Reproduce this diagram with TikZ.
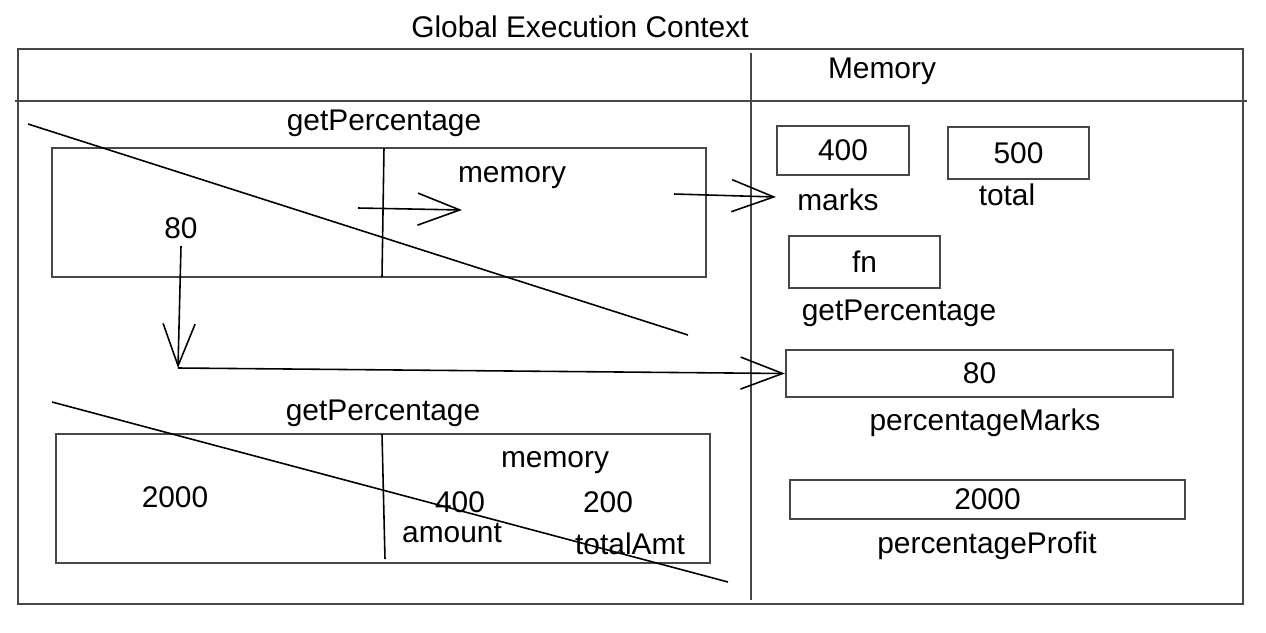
\documentclass[tikz,border=0pt]{standalone}
\usepackage{fontspec}
\setmainfont{Liberation Sans}
\usetikzlibrary{arrows.meta,calc}

\begin{document}
\begin{tikzpicture}[x = 0.01cm, y = -0.01cm,
    every node/.style = {font = \fontsize{8.5}{10}\selectfont, inner sep = 0pt},
    frame/.style = {draw = black!72, line width = 0.65pt},
    pen/.style = {draw = black, line width = 0.45pt},
    barb/.style = {pen, -{Straight Barb[length = 0.42cm, width = 0.32cm]}},
    valbox/.style = {draw = black!72, line width = 0.6pt, rectangle},
    lbl/.style = {anchor = base}]
        \useasboundingbox (0,0) rectangle (1266,633);
        % global context
        \coordinate(G1)at(18,49);
        \coordinate(G2)at(1243,604);
        \path[frame](G1)rectangle(G2);
        \path[frame](15,101)to(1247,101);
        \path[frame](751,53)to(751,600);
        \node[lbl](title)at(580,37){Global Execution Context};
        \node[lbl](memhead)at(882,78){Memory};
        % first call
        \node[lbl](fnA)at(384,130){getPercentage};
        \path[frame](52,148)rectangle(706,277);
        \path[pen](384,148)to(382,277);
        \node[lbl](memA)at(512,182){memory};
        \node[lbl, inner sep = 2pt](v80)at(181,238){80};
        \path[pen](28,124)to(688,335);
        % second call
        \node[lbl](fnB)at(383,420){getPercentage};
        \path[frame](56,434)rectangle(710,563);
        \path[pen](382,434)to(385,559);
        \node[lbl](memB)at(555,467){memory};
        \node[lbl](v2000)at(175,507){2000};
        \node[lbl](v400)at(460,512){400};
        \node[lbl](v200)at(608,512){200};
        \node[lbl](amount)at(452,542){amount};
        \node[lbl](totalAmt)at(630,554){totalAmt};
        \path[pen](52,402)to(728,582);
        % memory
        \node[valbox, minimum width = 1.32cm, minimum height = 0.49cm](marks)at(843,150.5){400};
        \node[lbl](marksL)at(838,210){marks};
        \node[valbox, minimum width = 1.41cm, minimum height = 0.52cm](total)at(1018.5,153){500};
        \node[lbl](totalL)at(1007,205){total};
        \node[valbox, minimum width = 1.51cm, minimum height = 0.52cm](fn)at(864.5,262){fn};
        \node[lbl](fnL)at(899,320){getPercentage};
        \node[valbox, minimum width = 3.87cm, minimum height = 0.47cm](mpm)at(979.5,373.5){80};
        \node[lbl](mpmL)at(985,430){percentageMarks};
        \node[valbox, minimum width = 3.95cm, minimum height = 0.39cm](mpp)at(987.5,499.5){2000};
        \node[lbl](mppL)at(987,553){percentageProfit};
        % arrows
        \coordinate(A1)at(358,208);
        \coordinate(A2)at(462,210);
        \path[barb](A1)to(A2);
        \coordinate(B1)at(674,194);
        \coordinate(B2)at(776,197);
        \path[barb](B1)to(B2);
        \coordinate(C1)at(178,368);
        \path[barb](v80.south)to(C1);
        \path[barb](C1)to(mpm.west);
    \end{tikzpicture}
\end{document}
